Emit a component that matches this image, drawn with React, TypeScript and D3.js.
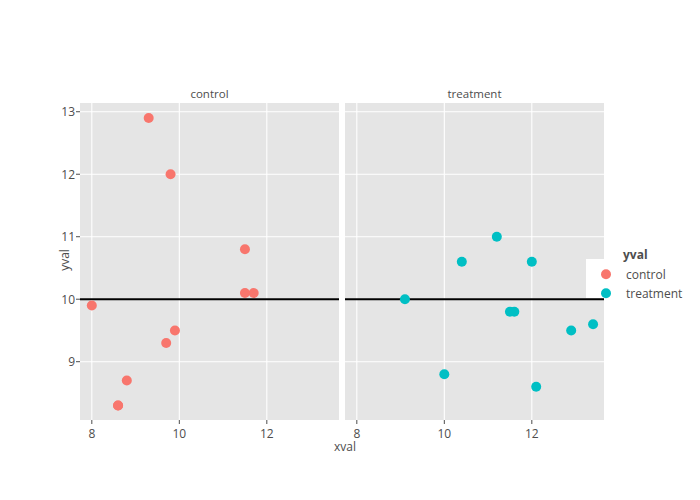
import React from "react";
import * as d3 from "d3";

const panels = ["control", "treatment"];
const colors = ["#F8766D", "#00BFC4"];
const controlX = [9.3, 9.8, 11.5, 11.5, 11.7, 8.0, 9.9, 9.7, 8.8, 8.6, 8.6];
const controlY = [12.9, 12.0, 10.8, 10.1, 10.1, 9.9, 9.5, 9.3, 8.7, 8.3, 8.3];
const treatX = [9.1, 10.4, 11.2, 12.0, 11.5, 11.6, 12.9, 13.4, 10.0, 12.1];
const treatY = [10.0, 10.6, 11.0, 10.6, 9.8, 9.8, 9.5, 9.6, 8.8, 8.6];
const xTicks = [8, 10, 12];
const yTicks = [9, 10, 11, 12, 13];
const hlineY = 10;

const font = "'Open Sans', sans-serif";
const W = 700, H = 500;
const top = 103, bottom = 420;
const panelX = [80, 345];
const panelW = 259;

export default function App() {
  const y = d3.scaleLinear().domain([8.067, 13.14]).range([bottom, top]);
  const xs = panelX.map((px) => d3.scaleLinear().domain([7.73, 13.65]).range([px, px + panelW]));
  const data = [
    controlX.map((v, i) => [v, controlY[i]]),
    treatX.map((v, i) => [v, treatY[i]]),
  ];
  return (
    <svg width={W} height={H} style={{ position: "absolute", left: 0, top: 0, background: "#fff" }}>
      {panels.map((p, pi) => {
        const x = xs[pi];
        return (
          <g key={p}>
            <rect x={panelX[pi]} y={top} width={panelW} height={bottom - top} fill="#e5e5e5" />
            {yTicks.map((t) => (
              <line key={"gy" + t} x1={panelX[pi]} x2={panelX[pi] + panelW} y1={y(t)} y2={y(t)} stroke="#fff" strokeWidth={1.1} />
            ))}
            {xTicks.map((t) => (
              <line key={"gx" + t} x1={x(t)} x2={x(t)} y1={top} y2={bottom} stroke="#fff" strokeWidth={1.1} />
            ))}
            {xTicks.map((t) => (
              <g key={"tx" + t}>
                <line x1={x(t)} x2={x(t)} y1={bottom} y2={bottom + 4} stroke="#4d4d4d" strokeWidth={1} />
                <text x={x(t)} y={bottom + 18} textAnchor="middle" fontFamily={font} fontSize={12} fill="#4d4d4d">{t}</text>
              </g>
            ))}
            <text x={panelX[pi] + panelW / 2} y={98} textAnchor="middle" fontFamily={font} fontSize={11.5} fill="#4d4d4d">{p}</text>
            <line x1={panelX[pi]} x2={panelX[pi] + panelW} y1={y(hlineY)} y2={y(hlineY)} stroke="#000" strokeWidth={2} />
            {data[pi].map(([a, b], i) => (
              <circle key={i} cx={x(a)} cy={y(b)} r={5} fill={colors[pi]} />
            ))}
          </g>
        );
      })}
      {yTicks.map((t) => (
        <g key={"ty" + t}>
          <line x1={panelX[0] - 4} x2={panelX[0]} y1={y(t)} y2={y(t)} stroke="#4d4d4d" strokeWidth={1} />
          <text x={panelX[0] - 5} y={y(t) + 4.5} textAnchor="end" fontFamily={font} fontSize={12} fill="#4d4d4d">{t}</text>
        </g>
      ))}
      <text x={345} y={451} textAnchor="middle" fontFamily={font} fontSize={12} fill="#4d4d4d">xval</text>
      <text transform={`translate(69,${260}) rotate(-90)`} textAnchor="middle" fontFamily={font} fontSize={12} fill="#4d4d4d">yval</text>
      <rect x={586} y={259} width={114} height={39} fill="#fff" />
      <text x={623} y={259} fontFamily={font} fontSize={12} fontWeight="bold" fill="#4d4d4d">yval</text>
      {panels.map((p, i) => (
        <g key={"lg" + p}>
          <circle cx={606} cy={274.3 + i * 19} r={5} fill={colors[i]} />
          <text x={626} y={278.5 + i * 19} fontFamily={font} fontSize={12} fill="#4d4d4d">{p}</text>
        </g>
      ))}
    </svg>
  );
}
